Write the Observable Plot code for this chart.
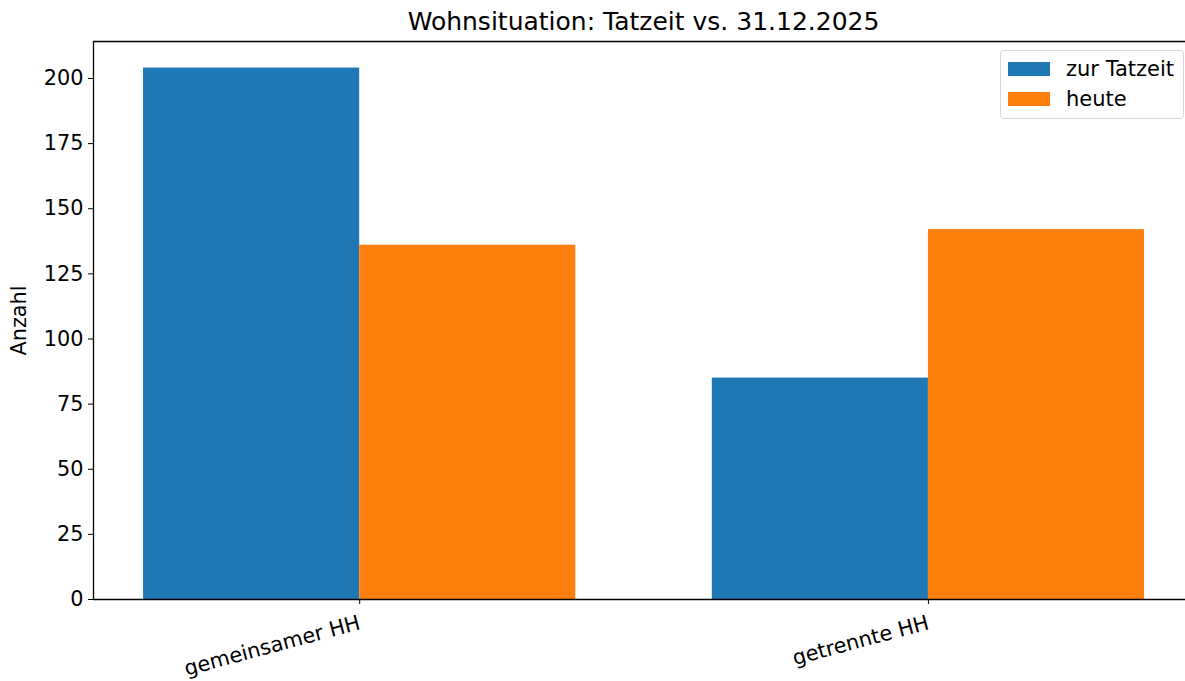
<!DOCTYPE html>
<html>
<head>
<meta charset="utf-8">
<script src="https://cdn.jsdelivr.net/npm/d3@7"></script>
<script src="https://cdn.jsdelivr.net/npm/@observablehq/plot@0.6"></script>
<style>
  html, body { margin: 0; padding: 0; background: #fff; }
  #wrap { position: relative; width: 1185px; height: 681px; font-family: "DejaVu Sans", sans-serif; }
  #legend { position: absolute; left: 1000px; top: 50px; width: 184px; height: 69px; border: 1.5px solid #d9d9d9; border-radius: 4px; background: rgba(255,255,255,0.8); box-sizing: border-box; font-size: 21px; color: #000; }
  .item { position: absolute; left: 7px; display: flex; align-items: center; height: 20px; }
  .sw { width: 42px; height: 14px; margin-right: 16px; }
</style>
</head>
<body>
<div id="wrap"></div>
<script>
const categories = ["gemeinsamer HH", "getrennte HH"];
const seriesNames = ["zur Tatzeit", "heute"];
const tatzeit = [204, 85];
const heute = [136, 142];
const yTicks = [0, 25, 50, 75, 100, 125, 150, 175, 200];
const colors = ["#1f77b4", "#ff7f0e"];

const barW = 0.38;
const rows = [];
[tatzeit, heute].forEach((vals, si) => {
  vals.forEach((v, i) => {
    rows.push({cat: categories[i], series: seriesNames[si], value: v,
               x1: i + (si - 1) * barW, x2: i + si * barW});
  });
});

const xDom = [-0.468, 1.452];
const yMax = 214.2;

const chart = Plot.plot({
  width: 1185,
  height: 681,
  marginTop: 41,
  marginBottom: 82,
  marginLeft: 93,
  marginRight: 0,
  style: {fontFamily: "DejaVu Sans, sans-serif", fontSize: "20.8px", color: "#000", background: "#fff"},
  x: {type: "linear", domain: xDom, axis: null},
  y: {domain: [0, yMax], axis: null},
  color: {domain: seriesNames, range: colors},
  marks: [
    Plot.rectY(rows, {x1: "x1", x2: "x2", y1: 0, y2: "value", fill: "series"}),
    Plot.axisY({ticks: yTicks, tickSize: 5, tickPadding: 5, fontSize: 20.8, label: "Anzahl",
                labelAnchor: "center", labelArrow: "none", labelOffset: 82}),
    Plot.axisX({ticks: [0, 1], tickFormat: i => categories[i], tickSize: 5, tickPadding: 18,
                tickRotate: -15, fontSize: 20.8, label: null}),
    Plot.ruleX([xDom[0]], {stroke: "#000", strokeWidth: 1.3}),
    Plot.ruleY([0], {stroke: "#000", strokeWidth: 1.3}),
    Plot.ruleY([yMax], {stroke: "#000", strokeWidth: 1.3}),
    Plot.text(["Wohnsituation: Tatzeit vs. 31.12.2025"], {frameAnchor: "top", dx: 4, dy: -29,
                fontSize: 25, fill: "#000"})
  ]
});
document.getElementById("wrap").appendChild(chart);

const legend = document.createElement("div");
legend.id = "legend";
seriesNames.forEach((s, i) => {
  const it = document.createElement("div");
  it.className = "item";
  it.style.top = (i === 0 ? 8 : 38) + "px";
  const sw = document.createElement("div");
  sw.className = "sw";
  sw.style.background = colors[i];
  const tx = document.createElement("span");
  tx.textContent = s;
  it.appendChild(sw); it.appendChild(tx);
  legend.appendChild(it);
});
document.getElementById("wrap").appendChild(legend);
</script>
</body>
</html>
